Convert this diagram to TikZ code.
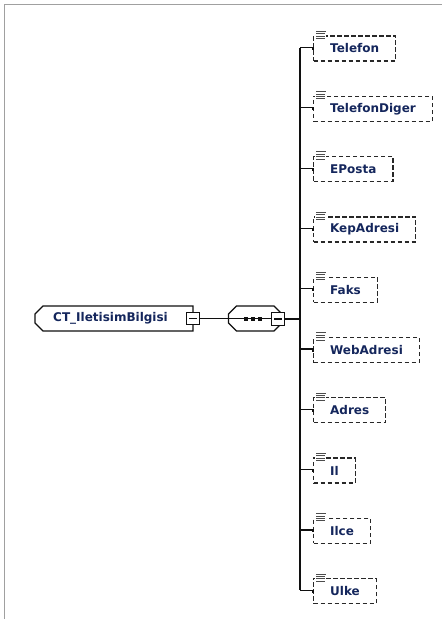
\documentclass[tikz,border=0pt]{standalone}
\usepackage{fontspec}
\setmainfont{DejaVu Sans}
\usetikzlibrary{calc}
\definecolor{framecol}{HTML}{A0A0A0}
\definecolor{txtcol}{HTML}{14265C}
\definecolor{linecol}{HTML}{101010}
\definecolor{boxcol}{HTML}{282828}
\begin{document}
\begin{tikzpicture}[x=1pt,y=-1pt,
  lbl/.style={font=\bfseries\fontsize{12}{14}\selectfont, text=txtcol},
  elem/.style={lbl, draw=boxcol, line width=1.3pt, dash pattern=on 4.5pt off 2.5pt,
    fill=white, anchor=west, minimum height=25pt, inner xsep=16.5pt, inner ysep=0pt},
  conn/.style={draw=linecol, line width=1.2pt},
  shapeline/.style={draw=linecol, line width=1.1pt, fill=white},
  minusbox/.style={draw=linecol, line width=1.1pt, fill=white, minimum size=12.5pt,
    inner sep=0pt, path picture={\draw[linecol, line width=1.1pt]
      ([xshift=2.5pt]path picture bounding box.west) -- ([xshift=-2.5pt]path picture bounding box.east);}},
  iconline/.style={draw=black!70, line width=1pt}
]
\useasboundingbox (0,0) rectangle (442,619);
% frame
\draw[framecol, line width=1.6pt] (4.5,619) -- (4.5,4.5) -- (442,4.5);

% root element
\draw[shapeline] (43,306) -- (193,306) -- (193,331) -- (43,331) -- (35,323) -- (35,314) -- cycle;
\node[lbl, anchor=west, inner sep=0pt] (ct) at (53,318.5) {CT\_IletisimBilgisi};
\node[minusbox] (ctm) at (193,318.5) {};

% sequence compositor
\draw[shapeline] (236.5,306) -- (274,306) -- (282,314) -- (282,323) -- (274,331)
  -- (236.5,331) -- (228.5,323) -- (228.5,314) -- cycle;
\node[minusbox] (seqm) at (278,319) {};
\draw[conn] (ctm.east) -- (seqm.west |- ctm.east);
\foreach \dx in {245.5,252.8,260.1}
  \fill[linecol] (\dx-2,316.5) rectangle (\dx+2,320.5);
\node[minusbox] at (278,319) {};
\coordinate (tmid) at (300,319);
\draw[conn] (seqm.east) -- (tmid);

% children
\foreach \t [count=\i from 0] in {Telefon,TelefonDiger,EPosta,KepAdresi,Faks,WebAdresi,Adres,Il,Ilce,Ulke}{
  \node[elem] (e\i) at (313,48.5+60.3*\i) {\t};
  \fill[white] ($(e\i.north west)+(2,-5)$) rectangle ($(e\i.north west)+(13,4.5)$);
  \foreach \dy/\w in {-4/10, -1.6/9, 0.8/9, 3.2/9}
    \draw[iconline] ($(e\i.north west)+(3,\dy)$) -- ++(\w,0);
  \coordinate (t\i) at (300,47.5+60.3*\i);
  \draw[conn] (t\i) -- (e\i.west |- t\i) -- ($(e\i.west)+(0,1.5)$);
}
\draw[conn] (t0) -- (t9);
\end{tikzpicture}
\end{document}
